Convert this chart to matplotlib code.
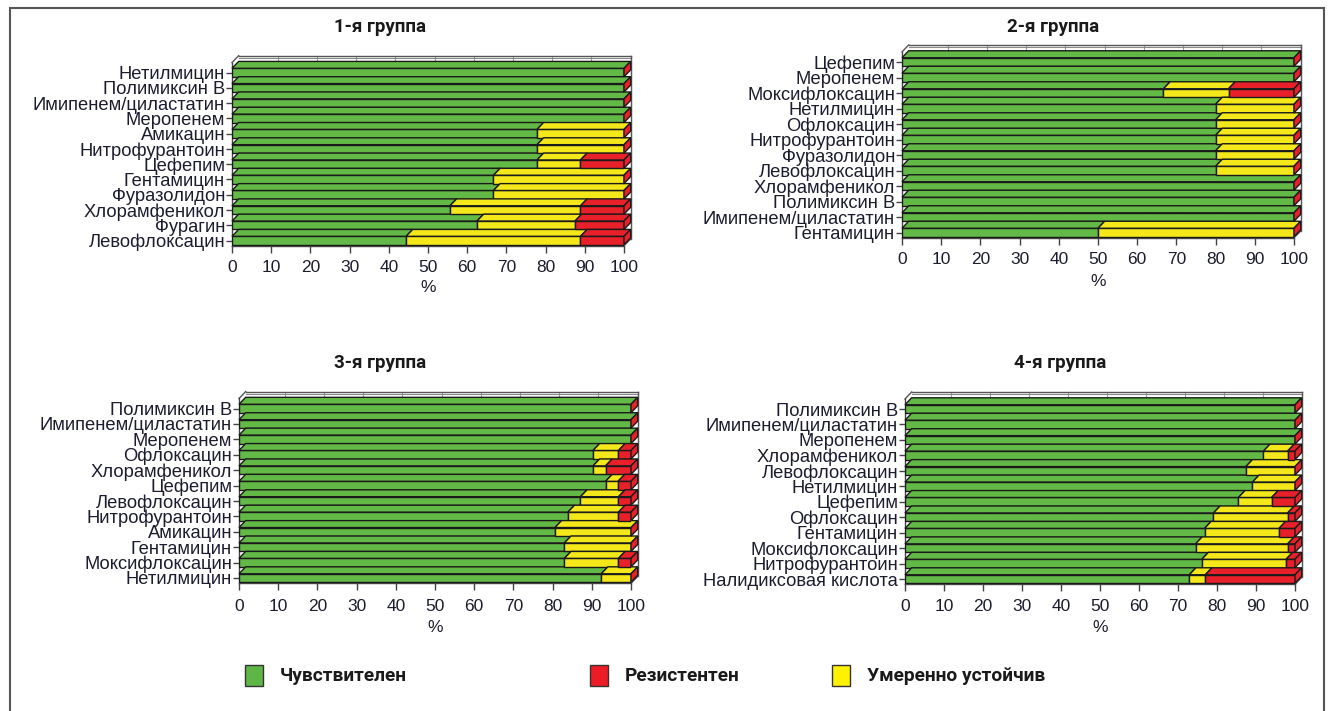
import matplotlib
matplotlib.use("Agg")
import matplotlib.pyplot as plt
from matplotlib.patches import Polygon, Rectangle

# ---------------- data ----------------
titles = ["1-я группа", "2-я группа", "3-я группа", "4-я группа"]

cats1 = ["Нетилмицин", "Полимиксин В", "Имипенем/циластатин", "Меропенем", "Амикацин",
         "Нитрофурантоин", "Цефепим", "Гентамицин", "Фуразолидон", "Хлорамфеникол",
         "Фурагин", "Левофлоксацин"]
sens1 = [100, 100, 100, 100, 77.8, 77.8, 77.8, 66.7, 66.7, 55.6, 62.5, 44.4]
mod1 = [0, 0, 0, 0, 22.2, 22.2, 11.1, 33.3, 33.3, 33.3, 25.0, 44.5]
res1 = [0, 0, 0, 0, 0, 0, 11.1, 0, 0, 11.1, 12.5, 11.1]

cats2 = ["Цефепим", "Меропенем", "Моксифлоксацин", "Нетилмицин", "Офлоксацин",
         "Нитрофурантоин", "Фуразолидон", "Левофлоксацин", "Хлорамфеникол",
         "Полимиксин В", "Имипенем/циластатин", "Гентамицин"]
sens2 = [100, 100, 66.7, 80, 80, 80, 80, 80, 100, 100, 100, 50]
mod2 = [0, 0, 16.6, 20, 20, 20, 20, 20, 0, 0, 0, 50]
res2 = [0, 0, 16.7, 0, 0, 0, 0, 0, 0, 0, 0, 0]

cats3 = ["Полимиксин В", "Имипенем/циластатин", "Меропенем", "Офлоксацин", "Хлорамфеникол",
         "Цефепим", "Левофлоксацин", "Нитрофурантоин", "Амикацин", "Гентамицин",
         "Моксифлоксацин", "Нетилмицин"]
sens3 = [100, 100, 100, 90.3, 90.3, 93.5, 87.1, 83.9, 80.6, 83.0, 83.0, 92.4]
mod3 = [0, 0, 0, 6.5, 3.2, 3.2, 9.7, 12.9, 19.4, 17.0, 13.8, 7.6]
res3 = [0, 0, 0, 3.2, 6.5, 3.3, 3.2, 3.2, 0, 0, 3.2, 0]

cats4 = ["Полимиксин В", "Имипенем/циластатин", "Меропенем", "Хлорамфеникол", "Левофлоксацин",
         "Нетилмицин", "Цефепим", "Офлоксацин", "Гентамицин", "Моксифлоксацин",
         "Нитрофурантоин", "Налидиксовая кислота"]
sens4 = [100, 100, 100, 91.9, 87.4, 89.1, 85.5, 79.1, 76.8, 74.5, 76.1, 72.9]
mod4 = [0, 0, 0, 6.2, 12.6, 10.9, 8.5, 19.0, 19.1, 23.6, 21.6, 4.1]
res4 = [0, 0, 0, 1.9, 0, 0, 6.0, 1.9, 4.1, 1.9, 2.3, 23.0]

xticks = [0, 10, 20, 30, 40, 50, 60, 70, 80, 90, 100]
legend_labels = ["Чувствителен", "Резистентен", "Умеренно устойчив"]

# ---------------- style ----------------
W, H = 1330, 711
GREEN = "#62b946"
YELLOW = "#f4e71a"
RED = "#e8202a"
EDGE = "#1a1a1a"
TXT = "#1c1c30"
LABEL_FONT = ["Liberation Sans", "DejaVu Sans"]
BOLD_FONT = ["Liberation Sans Narrow", "Roboto", "DejaVu Sans"]

fig = plt.figure(figsize=(W / 100, H / 100), dpi=100)
fig.patch.set_facecolor("white")

DX = 1.7    # depth offset in x (data units)
DZ = 0.45   # depth offset in y (category units)
BH = 0.55   # front face height


def panel(spec, cats, g, y, r):
    x0, x100, yf, yl, tick_y, pct_y = spec
    n = len(cats)
    pitch = (yl - yf) / (n - 1)
    top = -1.1
    bot = n - 1 + 0.35
    top_px = yf + top * pitch
    bot_px = yf + bot * pitch
    ax = fig.add_axes([x0 / W, 1 - bot_px / H, (x100 - x0) / W, (bot_px - top_px) / H])
    ax.set_xlim(0, 100)
    ax.set_ylim(bot, top)
    ax.patch.set_alpha(0)
    for s in ax.spines.values():
        s.set_visible(False)

    # back wall grid + frame
    for v in xticks[1:]:
        ax.plot([v + DX, v + DX], [top, bot - DZ], color="#9a9a9a", lw=0.8, zorder=0.5, clip_on=False)
    ax.plot([DX, 100 + DX], [top, top], color="#555555", lw=1.0, zorder=1, clip_on=False)
    ax.plot([DX, 100 + DX], [top + 0.15, top + 0.15], color="#8a8a8a", lw=0.8, zorder=1, clip_on=False)
    ax.plot([0, DX], [top + DZ, top], color="#555555", lw=1.0, zorder=1, clip_on=False)
    ax.plot([100 + DX, 100 + DX], [top, bot - DZ], color="#555555", lw=1.0, zorder=1, clip_on=False)
    ax.plot([100, 100 + DX], [bot, bot - DZ], color="#555555", lw=1.0, zorder=1, clip_on=False)
    ax.plot([0, 0], [bot, top + DZ], color="#444444", lw=1.0, zorder=1, clip_on=False)
    ax.plot([0, 100], [bot, bot], color="#444444", lw=1.0, zorder=1, clip_on=False)

    ypos = list(range(n))
    lefts_y = g
    lefts_r = [a + b for a, b in zip(g, y)]
    series = [(g, [0] * n, GREEN), (y, lefts_y, YELLOW), (r, lefts_r, RED)]
    for vals, lefts, col in series:
        ax.barh(ypos, vals, left=lefts, height=BH, color=col, edgecolor=EDGE,
                linewidth=1.0, zorder=3)
        for i in range(n):
            if vals[i] <= 0:
                continue
            a = lefts[i]
            b = lefts[i] + vals[i]
            yt = i - BH / 2
            poly = Polygon([(a, yt), (b, yt), (b + DX, yt - DZ), (a + DX, yt - DZ)],
                           closed=True, facecolor=col, edgecolor=EDGE, lw=1.0,
                           zorder=3, clip_on=False)
            ax.add_patch(poly)
    # side faces (end cap of the last series)
    for i in range(n):
        end = g[i] + y[i] + r[i]
        yt = i - BH / 2
        yb = i + BH / 2
        poly = Polygon([(end, yt), (end + DX, yt - DZ), (end + DX, yb - DZ), (end, yb)],
                       closed=True, facecolor=RED, edgecolor=EDGE, lw=1.0, zorder=3,
                       clip_on=False)
        ax.add_patch(poly)

    ax.set_yticks(ypos)
    ax.set_yticklabels(cats, fontsize=13.2, family=LABEL_FONT, color=TXT)
    ax.set_xticks(xticks)
    ax.set_xticklabels([str(t) for t in xticks], fontsize=12.5, family=LABEL_FONT, color=TXT)
    ax.tick_params(axis="y", length=4, width=1, color="#444444", pad=1)
    pad_px = tick_y - 7 - bot_px - 5
    ax.tick_params(axis="x", length=5, width=1, color="#444444", pad=pad_px * 0.72)
    fig.text((x0 + x100) / 2 / W, 1 - pct_y / H, "%", ha="center", va="center",
             fontsize=12.5, family=LABEL_FONT, color=TXT)
    return ax


specs = [
    (232, 624, 72.5, 240.5, 265, 288),
    (902, 1294, 62, 232.5, 257, 281),
    (239, 631, 408.5, 578, 604, 627),
    (905, 1295, 409, 579, 604, 627),
]
panel(specs[0], cats1, sens1, mod1, res1)
panel(specs[1], cats2, sens2, mod2, res2)
panel(specs[2], cats3, sens3, mod3, res3)
panel(specs[3], cats4, sens4, mod4, res4)

title_pos = [(380, 27), (1053, 27), (380, 363), (1060, 363)]
for (tx, ty), t in zip(title_pos, titles):
    fig.text(tx / W, 1 - ty / H, t, ha="center", va="center", fontsize=13.5,
             fontweight="bold", family=BOLD_FONT, color="#1a1a1a")

# legend
leg_items = [(245, "#5db646"), (590, "#ed1c24"), (832, "#fff200")]
for (lx, c), lab in zip(leg_items, legend_labels):
    fig.add_artist(Rectangle((lx / W, 1 - 686 / H), 18 / W, 21 / H, transform=fig.transFigure,
                             facecolor=c, edgecolor="#333333", lw=1.0))
    fig.text((lx + 35) / W, 1 - 676 / H, lab, ha="left", va="center", fontsize=13.8,
             fontweight="bold", family=BOLD_FONT, color="#1a1a1a")

# outer frame
fig.add_artist(Rectangle((10 / W, -0.02), (1324 - 10) / W, (711 - 8) / H + 0.02,
                         transform=fig.transFigure, fill=False, edgecolor="#555555", lw=1.5))

fig.savefig("out.png", dpi=100, facecolor="white")
